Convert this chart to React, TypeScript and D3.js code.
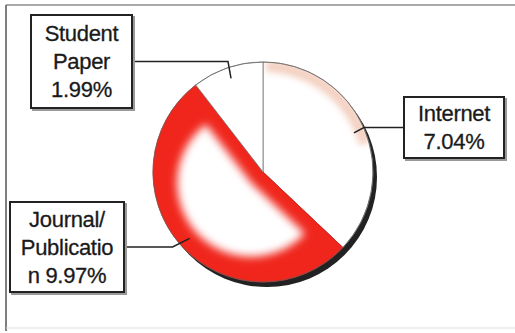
import React from "react";
import * as d3 from "d3";

const categories = ["Internet", "Journal/Publication", "Student Paper"];
const values = [7.04, 9.97, 1.99];
const labelLines = [["Internet", "7.04%"], ["Journal/", "Publicatio", "n 9.97%"], ["Student", "Paper", "1.99%"]];

const W = 515, H = 333;
const cx = 263, cy = 172, R = 110;
const colors = ["#ffffff", "#f0261c", "#ffffff"];
// label box layout (x, y, w, h, side of leader, elbow dx from pointer)
const boxes = [
  { x: 404, y: 97, w: 100, h: 61, side: "left", elbow: 10 },
  { x: 10, y: 202, w: 114, h: 90, side: "right", elbow: -17 },
  { x: 31, y: 15, w: 101, h: 93, side: "right", elbow: -3 },
];

export default function App() {
  const pie = d3.pie<number>().sort(null).value((d) => d);
  const arcs = pie(values);
  const arc = d3.arc<d3.PieArcDatum<number>>().innerRadius(0).outerRadius(R);
  const blobArc = d3.arc<d3.PieArcDatum<number>>().innerRadius(0).outerRadius(R - 36);
  const ptrArc = d3.arc<d3.PieArcDatum<number>>().innerRadius(R * 0.9).outerRadius(R * 0.9);
  const rimArc = d3.arc().innerRadius(R - 10).outerRadius(R + 2);
  const fontSize = 22;
  const lineH = 28;
  const red = arcs[1];
  const mid = (red.startAngle + red.endAngle) / 2;
  const shift = 16;
  const bx = cx + Math.sin(mid) * shift, by = cy - Math.cos(mid) * shift;
  return (
    <svg width={W} height={H} style={{ position: "absolute", left: 0, top: 0, background: "#fff" }}
      fontFamily="'Liberation Sans', Arial, sans-serif">
      <defs>
        <filter id="blur6" x="-50%" y="-50%" width="200%" height="200%">
          <feGaussianBlur stdDeviation="4" />
        </filter>
        <filter id="blur3" x="-50%" y="-50%" width="200%" height="200%">
          <feGaussianBlur stdDeviation="3" />
        </filter>
        <clipPath id="clipRed">
          <path d={arc(arcs[1]) || ""} transform={`translate(${cx},${cy})`} />
        </clipPath>
        <clipPath id="clipNet">
          <path d={arc(arcs[0]) || ""} transform={`translate(${cx},${cy})`} />
        </clipPath>
      </defs>
      {/* frame */}
      <line x1={6} y1={5} x2={W} y2={5} stroke="#555" strokeWidth={1.2} />
      <line x1={6} y1={5} x2={6} y2={331} stroke="#555" strokeWidth={1.5} />
      <line x1={6} y1={328} x2={W} y2={328} stroke="#ddd" strokeWidth={1} />
      {/* pie shadow */}
      <circle cx={cx + 4} cy={cy + 5} r={R} fill="#222" />
      <g transform={`translate(${cx},${cy})`}>
        {arcs.map((a, i) => (
          <path key={categories[i]} d={arc(a) || ""} fill={colors[i]} stroke={i === 1 ? "#d02018" : "#777"} strokeWidth={0.8} />
        ))}
      </g>
      {/* white highlight in red slice */}
      <g clipPath="url(#clipRed)">
        <path d={blobArc(red) || ""} transform={`translate(${bx},${by})`} fill="#fff" filter="url(#blur6)" />
      </g>
      {/* peach rim in internet slice */}
      <g clipPath="url(#clipNet)">
        <path d={rimArc({ startAngle: 0.03, endAngle: 1.3 } as any) || ""} transform={`translate(${cx},${cy})`}
          fill="#e59a78" opacity={0.45} filter="url(#blur3)" />
      </g>
      <circle cx={cx} cy={cy} r={R} fill="none" stroke="#666" strokeWidth={0.7} />
      {/* leaders and labels */}
      {arcs.map((a, i) => {
        const [px, py] = ptrArc.centroid(a);
        const b = boxes[i];
        const ptx = cx + px, pty = cy + py;
        const sx = b.side === "left" ? b.x : b.x + b.w;
        const sy = b.y + b.h / 2;
        const ex = ptx + b.elbow;
        const lines = labelLines[i];
        const midY = b.y + b.h / 2;
        const firstBase = midY - ((lines.length - 1) * lineH) / 2 + fontSize * 0.36;
        return (
          <g key={"l" + i}>
            <polyline points={`${sx},${sy} ${ex},${sy} ${ptx},${pty}`} fill="none" stroke="#222" strokeWidth={1.5} />
            <rect x={b.x + 2} y={b.y + 2} width={b.w} height={b.h} fill="none" stroke="#999" strokeWidth={2} />
            <rect x={b.x} y={b.y} width={b.w} height={b.h} fill="#fff" stroke="#222" strokeWidth={2} />
            {lines.map((t, j) => (
              <text key={j} x={b.x + b.w / 2} y={firstBase + j * lineH} textAnchor="middle" fontSize={fontSize}
                fill="#1a1a1a" stroke="#1a1a1a" strokeWidth={0.3} letterSpacing={-0.3}>{t}</text>
            ))}
          </g>
        );
      })}
    </svg>
  );
}
